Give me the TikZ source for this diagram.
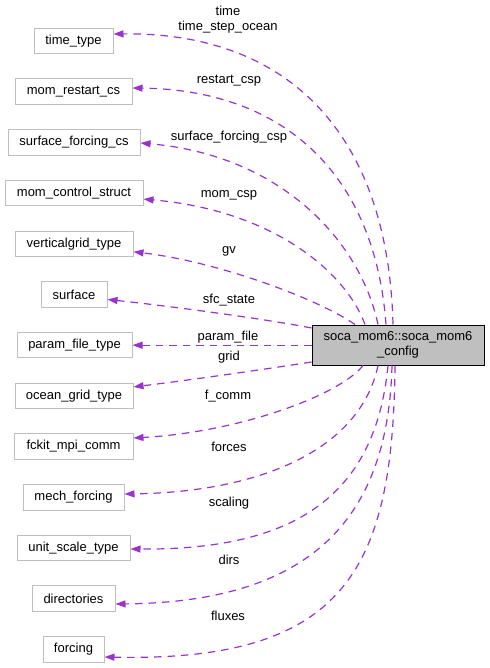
\documentclass[tikz,border=0pt]{standalone}
\usepackage{fontspec}
\setmainfont{Liberation Sans}
\usetikzlibrary{arrows.meta}
\definecolor{edgecol}{HTML}{9A32CD}
\definecolor{boxgray}{HTML}{BFBFBF}
\begin{document}
\begin{tikzpicture}[x=1pt,y=-1pt,
  cls/.style={draw=boxgray, line width=1pt, minimum height=25.5pt, inner sep=0pt, font=\fontsize{13}{15}\selectfont},
  mainbox/.style={draw=black, fill=boxgray, line width=1pt, minimum width=172pt, minimum height=40pt, inner sep=0pt, align=center, font=\fontsize{13}{15}\selectfont},
  rel/.style={draw=edgecol, line width=1.2pt, dash pattern=on 7.5pt off 6pt, -{Triangle[length=10pt,width=7pt,fill=edgecol]}},
  lab/.style={font=\fontsize{13}{15}\selectfont, inner sep=0pt, align=center}]
\useasboundingbox (0,0) rectangle (489,668);

\node[mainbox] (main) at (398,345) {soca\_mom6::soca\_mom6\\\_config};

\node[cls, minimum width=79pt]  (tt)  at (73.5,41)    {time\_type};
\node[cls, minimum width=117pt] (mrc) at (73.5,91.7)  {mom\_restart\_cs};
\node[cls, minimum width=132pt] (sfc) at (74,142.4)   {surface\_forcing\_cs};
\node[cls, minimum width=138pt] (mcs) at (74,193.1)   {mom\_control\_struct};
\node[cls, minimum width=118pt] (vgt) at (74,243.8)   {verticalgrid\_type};
\node[cls, minimum width=66pt]  (srf) at (74,294.5)   {surface};
\node[cls, minimum width=115pt] (pft) at (74.5,345.2) {param\_file\_type};
\node[cls, minimum width=118pt] (ogt) at (74,395.9)   {ocean\_grid\_type};
\node[cls, minimum width=119pt] (fmc) at (73.5,446.6) {fckit\_mpi\_comm};
\node[cls, minimum width=101pt] (mf)  at (73.5,497.3) {mech\_forcing};
\node[cls, minimum width=113pt] (ust) at (73.5,548)   {unit\_scale\_type};
\node[cls, minimum width=83pt]  (dir) at (73.5,598.7) {directories};
\node[cls, minimum width=61pt]  (frc) at (73.5,649.4) {forcing};

\draw[rel] ([xshift=-5pt]main.north) .. controls (388,130) and (285,32) .. ([yshift=7pt]tt.east);
\draw[rel] ([xshift=-12pt]main.north) .. controls (375,175) and (285,90) .. ([yshift=3.7pt]mrc.east);
\draw[rel] ([xshift=-20pt]main.north) .. controls (360,240) and (280,155) .. ([yshift=-0.6pt]sfc.east);
\draw[rel] ([xshift=-33pt]main.north) .. controls (345,270) and (270,210) .. ([yshift=-6pt]mcs.east);
\draw[rel] ([xshift=-43pt]main.north) .. controls (320,300) and (220,262) .. ([yshift=-8pt]vgt.east);
\draw[rel] ([yshift=17pt]main.west) .. controls (260,318) and (160,305) .. ([yshift=-5pt]srf.east);
\draw[rel] (main.west |- pft.east) -- (pft.east);
\draw[rel] ([yshift=-17pt]main.west) .. controls (260,370) and (190,380) .. ([yshift=9pt]ogt.east);
\draw[rel] ([xshift=-35pt]main.south) .. controls (340,395) and (240,432) .. ([yshift=8.6pt]fmc.east);
\draw[rel] ([xshift=-20pt]main.south) .. controls (360,450) and (260,492) .. ([yshift=3.3pt]mf.east);
\draw[rel] ([xshift=-10pt]main.south) .. controls (375,500) and (290,550) .. ([yshift=-1pt]ust.east);
\draw[rel] ([xshift=-6pt]main.south) .. controls (388,520) and (310,602) .. ([yshift=-5.3pt]dir.east);
\draw[rel] ([xshift=-3pt]main.south) .. controls (393,570) and (345,662) .. ([yshift=-7.6pt]frc.east);

\node[lab] (l1)  at (228,20)  {time\\time\_step\_ocean};
\node[lab] (l2)  at (229,81)  {restart\_csp};
\node[lab] (l3)  at (229,137) {surface\_forcing\_csp};
\node[lab] (l4)  at (229,195) {mom\_csp};
\node[lab] (l5)  at (229,251) {gv};
\node[lab] (l6)  at (229,300) {sfc\_state};
\node[lab] (l7)  at (228,337) {param\_file};
\node[lab] (l8)  at (229,357) {grid};
\node[lab] (l9)  at (228,396) {f\_comm};
\node[lab] (l10) at (229,447) {forces};
\node[lab] (l11) at (229,503) {scaling};
\node[lab] (l12) at (229,560) {dirs};
\node[lab] (l13) at (228,616) {fluxes};
\end{tikzpicture}
\end{document}
